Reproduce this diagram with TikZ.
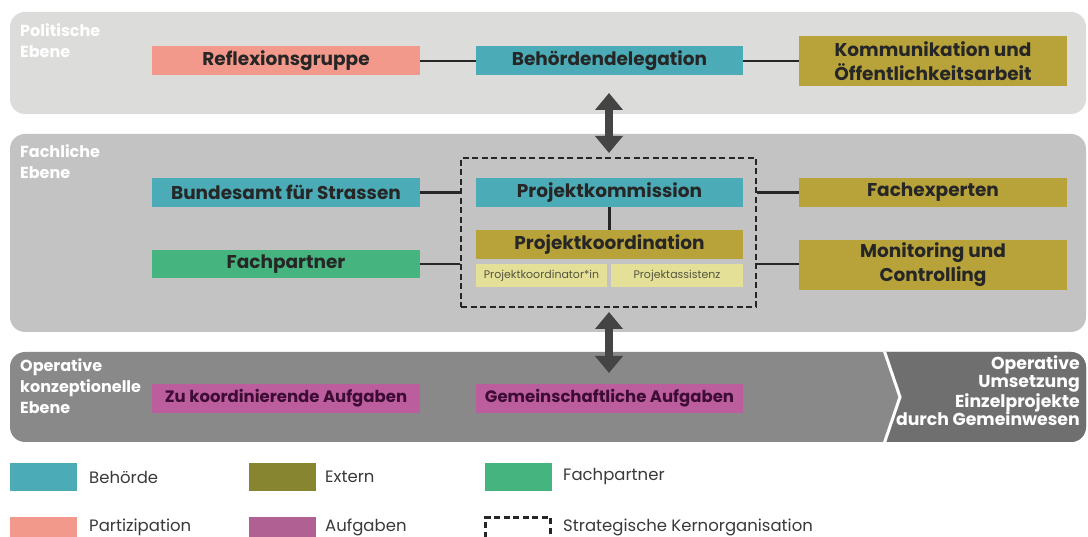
\documentclass[tikz,border=0pt]{standalone}
\usepackage{fontspec}
\setmainfont{Poppins}
\usetikzlibrary{arrows.meta}
\definecolor{panelA}{HTML}{DCDDDA}
\definecolor{panelB}{HTML}{C3C3C3}
\definecolor{panelC}{HTML}{898989}
\definecolor{panelD}{HTML}{6F6F6F}
\definecolor{cteal}{HTML}{4BABB6}
\definecolor{csalmon}{HTML}{F3998B}
\definecolor{colive}{HTML}{B8A33B}
\definecolor{cyel}{HTML}{E4E098}
\definecolor{cgreen}{HTML}{46B47F}
\definecolor{cmag}{HTML}{BC5E9E}
\definecolor{cextern}{HTML}{878530}
\definecolor{caufg}{HTML}{B06093}
\definecolor{carrow}{HTML}{444444}
\definecolor{ctxt}{HTML}{262626}
\definecolor{cpurp}{HTML}{3D0C34}
\definecolor{csub}{HTML}{55553F}
\definecolor{clegtxt}{HTML}{3A3A3A}
\begin{document}
\begin{tikzpicture}[x=1pt,y=-1pt,
  panel/.style={rounded corners=15pt},
  box/.style={rectangle, inner sep=0pt, align=center, text=ctxt,
    font=\fontsize{18.5}{24}\selectfont\bfseries},
  taskbox/.style={box, fill=cmag, text=cpurp,
    font=\fontsize{16.5}{20}\selectfont\bfseries},
  subbox/.style={rectangle, inner sep=0pt, fill=cyel, text=csub,
    font=\fontsize{11}{13}\selectfont},
  lab/.style={inner sep=0pt, align=left, text=white,
    font=\fontsize{16}{21}\selectfont\bfseries},
  link/.style={draw=ctxt, line width=2.2pt},
  bigarrow/.style={draw=carrow, line width=8pt,
    {Triangle[width=27pt,length=17pt]}-{Triangle[width=27pt,length=17pt]}},
  kernbox/.style={draw=ctxt, line width=2.2pt, dash pattern=on 6pt off 3.5pt, inner sep=0pt},
  swatch/.style={rectangle, inner sep=0pt, minimum width=67pt, minimum height=27pt},
  legtxt/.style={anchor=west, inner sep=0pt, text=clegtxt,
    font=\fontsize{16.5}{20}\selectfont}
]
\useasboundingbox (0,0) rectangle (1088,537);
\clip (0,0) rectangle (1088,537);
\fill[white] (0,0) rectangle (1088,537);

% panels
\fill[panelA, panel] (10,12) rectangle (1086,114);
\fill[panelB, panel] (10,134) rectangle (1086,332);
\fill[panelC, panel] (10,352) rectangle (1086,442);
\begin{scope}
  \clip[panel] (10,352) rectangle (1086,442);
  \fill[panelD] (885,348) -- (1090,348) -- (1090,446) -- (885,446) -- (885,442) -- (900,397) -- (885,352) -- cycle;
  \draw[white, line width=3pt] (884,350) -- (900,397) -- (884,444);
\end{scope}

% panel labels
\node[lab, anchor=north west] (lpol) at (20,23) {Politische\\Ebene};
\node[lab, anchor=north west] (lfach) at (20,144) {Fachliche\\Ebene};
\node[lab, anchor=north west] (lop) at (20,358) {Operative\\konzeptionelle\\Ebene};
\node[lab, anchor=north east, align=right, font=\fontsize{17.3}{18.5}\selectfont\bfseries] (lumsetz) at (1080,355)
  {Operative\\Umsetzung\\Einzelprojekte\\durch Gemeinwesen};

% political level
\node[box, fill=csalmon, minimum width=268pt, minimum height=29pt] (refl) at (286,61) {Reflexionsgruppe};
\node[box, fill=cteal, minimum width=267pt, minimum height=29pt] (beh) at (609.5,61) {Behördendelegation};
\node[box, fill=colive, minimum width=268pt, minimum height=50pt] (komm) at (933,61) {Kommunikation und\\Öffentlichkeitsarbeit};
\draw[link] (refl.east) -- (beh.west);
\draw[link] (beh.east) -- (komm.west);

% technical level
\node[kernbox, minimum width=295pt, minimum height=149pt] (kern) at (608.5,232.5) {};
\node[box, fill=cteal, minimum width=268pt, minimum height=29pt] (bund) at (286,192.5) {Bundesamt für Strassen};
\node[box, fill=cgreen, minimum width=268pt, minimum height=28pt] (fpart) at (286,264) {Fachpartner};
\node[box, fill=cteal, minimum width=267pt, minimum height=29pt] (pkom) at (609.5,192.5) {Projektkommission};
\node[box, fill=colive, minimum width=267pt, minimum height=29pt] (pkoord) at (609.5,244.5) {Projektkoordination};
\node[subbox, minimum width=131pt, minimum height=23pt] (pkin) at (541.5,275.5) {Projektkoordinator*in};
\node[subbox, minimum width=132pt, minimum height=23pt] (pass) at (677,275.5) {Projektassistenz};
\node[box, fill=colive, minimum width=268pt, minimum height=29pt] (fexp) at (933,192.5) {Fachexperten};
\node[box, fill=colive, minimum width=268pt, minimum height=50pt] (mon) at (933,265) {Monitoring und\\Controlling};
\draw[link] (bund.east) -- (bund.east -| kern.west);
\draw[link] (fpart.east) -- (fpart.east -| kern.west);
\draw[link] (kern.east |- fexp.west) -- (fexp.west);
\draw[link] (kern.east |- fpart.east) -- (fpart.east -| mon.west);
\draw[link] (pkom.south) -- (pkoord.north);

% operative level
\node[taskbox, minimum width=268pt, minimum height=29pt] (zuk) at (286,398.5) {Zu koordinierende Aufgaben};
\node[taskbox, minimum width=267pt, minimum height=29pt] (gem) at (609.5,398.5) {Gemeinschaftliche Aufgaben};

% big arrows
\coordinate (a1t) at (609,93);
\coordinate (a1b) at (609,153);
\coordinate (a2t) at (609,312);
\coordinate (a2b) at (609,373);
\draw[bigarrow] (a1t) -- (a1b);
\draw[bigarrow] (a2t) -- (a2b);

% legend
\node[swatch, fill=cteal] (sw1) at (43.5,477) {};
\node[legtxt] (lt1) at (89,477) {Behörde};
\node[swatch, fill=cextern] (sw2) at (282,477) {};
\node[legtxt] (lt2) at (325,477) {Extern};
\node[swatch, fill=cgreen] (sw3) at (518,477) {};
\node[legtxt] (lt3) at (563,477) {Fachpartner};
\node[swatch, fill=csalmon] (sw4) at (43.5,530.5) {};
\node[legtxt] (lt4) at (89,527) {Partizipation};
\node[swatch, fill=caufg] (sw5) at (282,530.5) {};
\node[legtxt] (lt5) at (325,527) {Aufgaben};
\node[kernbox, minimum width=65pt, minimum height=27pt] (sw6) at (518,531) {};
\node[legtxt] (lt6) at (563,527) {Strategische Kernorganisation};
\end{tikzpicture}
\end{document}
